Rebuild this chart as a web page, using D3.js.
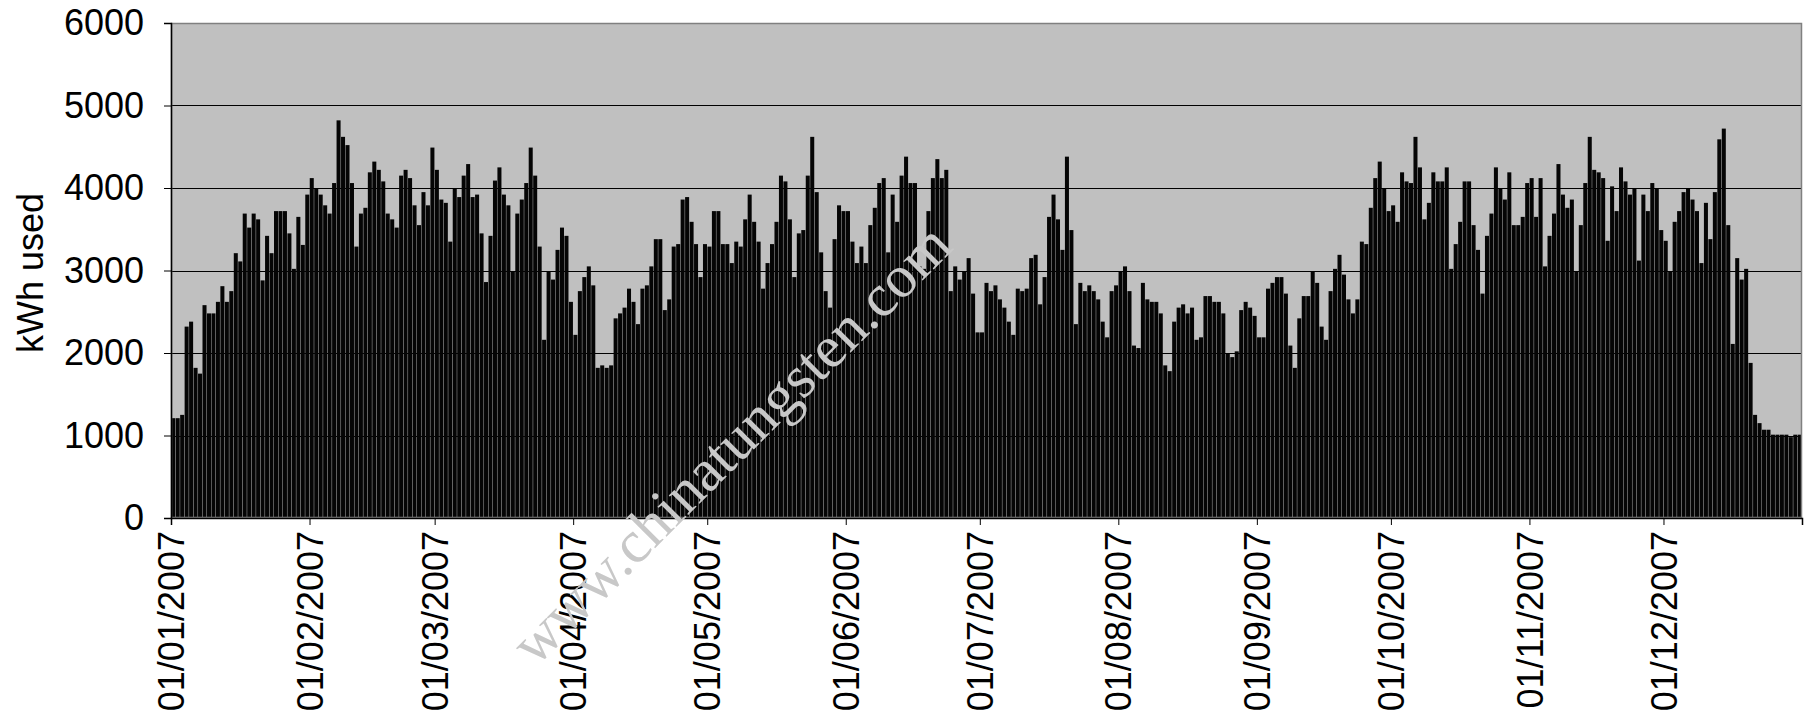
<!DOCTYPE html>
<html><head><meta charset="utf-8">
<script src="https://cdn.jsdelivr.net/npm/d3@7"></script>
<style>body{margin:0;background:#fff}</style>
</head><body>
<svg id="chart" width="1814" height="727"></svg>
<script>
const monthLabels = ["01/01/2007","01/02/2007","01/03/2007","01/04/2007","01/05/2007","01/06/2007","01/07/2007","01/08/2007","01/09/2007","01/10/2007","01/11/2007","01/12/2007"];
const yTicks = [0,1000,2000,3000,4000,5000,6000];
const yTitle = "kWh used";
const watermark = "www.chinatungsten.com";

const jan = [1210,1210,1250,2320,2380,1820,1750,2580,2480,2480,2620,2810,2620,2750,3210,3110,3690,3520,3690,3620,2880,3420,3210,3720,3720,3720,3450,3020,3650,3310,3920];
const feb = [4120,3990,3920,3790,3690,4060,4820,4620,4520,4060,3290,3690,3760,4190,4320,4220,4080,3690,3620,3520,4150,4220,4120,3790,3550,3950,3790,4490];
const mar = [4220,3860,3820,3350,3990,3890,4150,4290,3890,3920,3450,2860,3420,4090,4250,3920,3790,2990,3690,3860,4060,4490,4150,3290,2160,2990,2890,3250,3520,3420,2620];
const apr = [2220,2750,2920,3050,2820,1820,1850,1820,1850,2420,2480,2550,2780,2620,2350,2780,2820,3050,3380,3380,2520,2650,3290,3320,3860,3890,3590,3320,2920,3320];
const may = [3290,3720,3720,3320,3320,3090,3350,3290,3620,3920,3590,3350,2780,3090,3320,3590,4150,4080,3620,2920,3450,3490,4150,4620,3950,3220,2750,2550,3380,3790,3720];
const jun = [3720,3350,3090,3290,3090,3550,3760,4060,4120,3220,3920,3590,4150,4380,4060,4060,3050,3020,3720,4120,4350,4120,4220,2750,3050,2890,2990,3150,2720,2250];
const jul = [2250,2850,2750,2820,2650,2550,2380,2220,2780,2750,2780,3150,3190,2590,2920,3650,3920,3620,3250,4380,3490,2350,2850,2750,2820,2750,2650,2380,2190,2750,2820];
const aug = [2990,3050,2750,2090,2060,2850,2650,2620,2620,2480,1850,1780,2380,2550,2590,2480,2550,2160,2190,2690,2690,2620,2620,2480,1990,1950,2020,2520,2620,2550,2450];
const sep = [2190,2190,2780,2850,2920,2920,2720,2090,1820,2420,2690,2690,2990,2850,2320,2160,2750,3020,3190,2950,2650,2480,2650,3350,3320,3760,4120,4320,3990,3720];
const oct = [3790,3590,4190,4080,4060,4620,4250,3620,3820,4190,4080,4080,4250,3020,3320,3590,4080,4080,3550,3250,2720,3420,3690,4250,3990,3860,4190,3550,3550,3650,4060];
const nov = [4120,3650,4120,3050,3420,3690,4290,3920,3760,3860,2990,3550,4060,4620,4220,4190,4120,3360,4020,3720,4250,4080,3920,3990,3120,3920,3720,4060,3990,3490];
const dec = [3360,2990,3590,3720,3950,3990,3860,3720,3090,3820,3380,3950,4590,4720,3550,2110,3150,2890,3020,1880,1250,1150,1070,1070,1010,1010,1010,1010,980,1010,1010];

const months = [jan,feb,mar,apr,may,jun,jul,aug,sep,oct,nov,dec];
const values = [].concat(...months);
const monthStarts = [];
{ let s = 0; months.forEach(m => { monthStarts.push(s); s += m.length; }); }

const W = 1814, H = 727;
const L = 171, R = 1802, T = 23, B = 518;
const font = "'Liberation Sans', Arial, sans-serif";

const svg = d3.select("#chart");
svg.append("rect").attr("width", W).attr("height", H).attr("fill", "#fff");

const y = d3.scaleLinear().domain([0, 6000]).range([B, T]);
const xDay = d3.scaleLinear().domain([0, values.length]).range([L, R]);
const xb = d3.scaleBand().domain(d3.range(values.length)).range([L, R]).paddingInner(0.1).paddingOuter(0.05);

// plot background
svg.append("rect").attr("x", L).attr("y", T).attr("width", R - L).attr("height", B - T)
  .attr("fill", "#c0c0c0");

// gridlines
svg.append("g").selectAll("line").data(yTicks.filter(d => d > 0 && d < 6000)).join("line")
  .attr("x1", L).attr("x2", R).attr("y1", d => Math.round(y(d)) + 0.5).attr("y2", d => Math.round(y(d)) + 0.5)
  .attr("stroke", "#000").attr("stroke-width", 1);

// bars
svg.append("g").selectAll("rect").data(values).join("rect")
  .attr("x", (d, i) => xb(i)).attr("width", xb.bandwidth())
  .attr("y", d => y(d)).attr("height", d => B - y(d))
  .attr("fill", "#050505");

// plot border
svg.append("rect").attr("x", L + 0.5).attr("y", T + 0.5).attr("width", R - L - 1).attr("height", B - T - 1)
  .attr("fill", "none").attr("stroke", "#808080").attr("stroke-width", 1.5);

// y axis
const yAxis = svg.append("g").attr("transform", `translate(${L},0)`)
  .call(d3.axisLeft(y).tickValues(yTicks).tickSize(7).tickPadding(20).tickFormat(d3.format("d")));
yAxis.select(".domain").attr("stroke", "#000").attr("stroke-width", 1.5);
yAxis.selectAll(".tick line").attr("stroke", "#000");
yAxis.selectAll("text").attr("font-family", font).attr("font-size", 36).attr("fill", "#000");

// x axis
const xAxis = svg.append("g").attr("transform", `translate(0,${B})`)
  .call(d3.axisBottom(xDay).tickValues(monthStarts).tickSize(7).tickFormat((d, i) => monthLabels[i]));
xAxis.select(".domain").attr("stroke", "#000").attr("stroke-width", 1.5);
xAxis.selectAll(".tick line").attr("stroke", "#000");
xAxis.selectAll("text")
  .attr("font-family", font).attr("font-size", 36).attr("fill", "#000")
  .attr("transform", "rotate(-90)")
  .attr("text-anchor", "end")
  .attr("x", -13).attr("y", 0).attr("dy", "0.35em");

// y title
svg.append("text").attr("transform", `translate(30,273) rotate(-90)`)
  .attr("text-anchor", "middle").attr("dominant-baseline", "central")
  .attr("font-family", font).attr("font-size", 36).attr("fill", "#000").text(yTitle);

// watermark
svg.append("text").attr("transform", "translate(731,444) rotate(-45)")
  .attr("text-anchor", "middle").attr("dominant-baseline", "central")
  .attr("font-family", "'Liberation Serif', 'Times New Roman', serif").attr("font-size", 60)
  .attr("fill", "#c8c8c8").text(watermark);
</script>
</body></html>
